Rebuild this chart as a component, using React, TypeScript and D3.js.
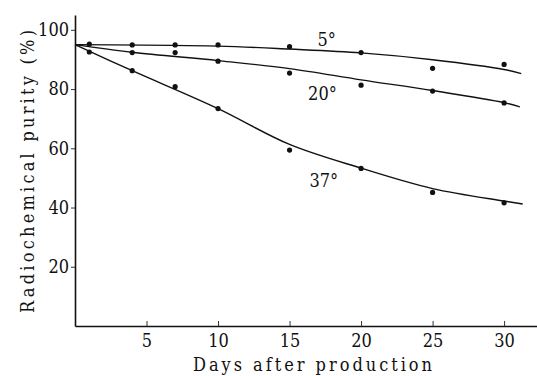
import { useEffect, useRef } from "react";
import * as d3 from "d3";

// fitted curves: [day, purity %]
const curve5 = [[0, 95], [10, 94.5], [15, 93.5], [20, 92.2], [25, 89.9], [30, 86.6], [31.2, 85.2]];
const curve20 = [[0, 95], [4, 92.4], [10, 89.6], [15, 86.9], [20, 83.1], [25, 79.5], [30, 75.4], [31.1, 74.0]];
const curve37 = [[0, 95], [4, 86.2], [10, 73.4], [15, 61.3], [20, 53.3], [25, 46.4], [30, 42.2], [31.3, 41.2]];

// measured points
const points5 = [[1, 95.2], [4, 94.9], [7, 94.9], [10, 94.9], [15, 94.3], [20, 92.3], [25, 87.0], [30, 88.3]];
const points20 = [[4, 92.3], [7, 92.3], [10, 89.4], [15, 85.4], [20, 81.3], [25, 79.3], [30, 75.3]];
const points37 = [[1, 92.5], [4, 86.2], [7, 80.8], [10, 73.4], [15, 59.4], [20, 53.2], [25, 45.1], [30, 41.6]];

const curveLabels = [
  { text: "5°", day: 17.6, value: 94.6 },
  { text: "20°", day: 17.3, value: 76.4 },
  { text: "37°", day: 17.4, value: 47 },
];

const xTicks = [5, 10, 15, 20, 25, 30];
const yTicks = [20, 40, 60, 80, 100];

const W = 537;
const H = 376;
const FONT = "DejaVu Serif";
const FS = 18;

const App = () => {
  const svgRef = useRef<SVGSVGElement>(null);

  useEffect(() => {
    const svg = d3.select(svgRef.current);
    svg.selectAll("*").remove();

    const x = d3.scaleLinear().domain([0, 32.3]).range([75, 537]);
    const y = d3.scaleLinear().domain([0, 105]).range([326, 15]);

    // axes
    const yAxis = d3.axisLeft(y).tickValues(yTicks).tickSizeInner(4).tickSizeOuter(0).tickPadding(2);
    const gy = svg.append("g").attr("transform", "translate(75,0)").call(yAxis);
    const xAxis = d3.axisBottom(x).tickValues(xTicks).tickSizeInner(-5).tickSizeOuter(0).tickPadding(8);
    const gx = svg.append("g").attr("transform", "translate(0,326)").call(xAxis);
    [gx, gy].forEach((g) => {
      g.attr("font-family", FONT).attr("font-size", FS).attr("font-stretch", "condensed");
      g.select(".domain").attr("stroke", "#111").attr("stroke-width", 1.6);
      g.selectAll(".tick line").attr("stroke", "#333").attr("stroke-width", 1);
      g.selectAll("text").attr("fill", "#111");
    });

    // curves
    const line = d3
      .line<number[]>()
      .x((d) => x(d[0]))
      .y((d) => y(d[1]))
      .curve(d3.curveCatmullRom);
    [curve5, curve20, curve37].forEach((c) => {
      svg
        .append("path")
        .attr("d", line(c))
        .attr("fill", "none")
        .attr("stroke", "#111")
        .attr("stroke-width", 1.4);
    });

    // points
    [points5, points20, points37].forEach((pts) => {
      svg
        .append("g")
        .selectAll("circle")
        .data(pts)
        .join("circle")
        .attr("cx", (d) => x(d[0]))
        .attr("cy", (d) => y(d[1]))
        .attr("r", 2.6)
        .attr("fill", "#111");
    });

    // curve labels
    svg
      .append("g")
      .selectAll("text")
      .data(curveLabels)
      .join("text")
      .attr("x", (d) => x(d.day))
      .attr("y", (d) => y(d.value))
      .attr("text-anchor", "middle")
      .attr("font-family", FONT)
      .attr("font-size", FS)
      .attr("font-stretch", "condensed")
      .attr("fill", "#111")
      .text((d) => d.text);

    // axis titles
    svg
      .append("text")
      .attr("transform", "translate(34,171.5) rotate(-90)")
      .attr("text-anchor", "middle")
      .attr("font-family", FONT)
      .attr("font-size", FS)
      .attr("font-stretch", "condensed")
      .attr("fill", "#111")
      .attr("textLength", 283)
      .attr("lengthAdjust", "spacing")
      .text("Radiochemical purity (%)");
    svg
      .append("text")
      .attr("x", 312.5)
      .attr("y", 371)
      .attr("text-anchor", "middle")
      .attr("font-family", FONT)
      .attr("font-size", FS)
      .attr("font-stretch", "condensed")
      .attr("fill", "#111")
      .attr("textLength", 239)
      .attr("lengthAdjust", "spacing")
      .text("Days after production");
  }, []);

  return (
    <svg
      ref={svgRef}
      width={W}
      height={H}
      style={{ position: "absolute", left: 0, top: 0, background: "#fff" }}
    ></svg>
  );
};

export default App;
